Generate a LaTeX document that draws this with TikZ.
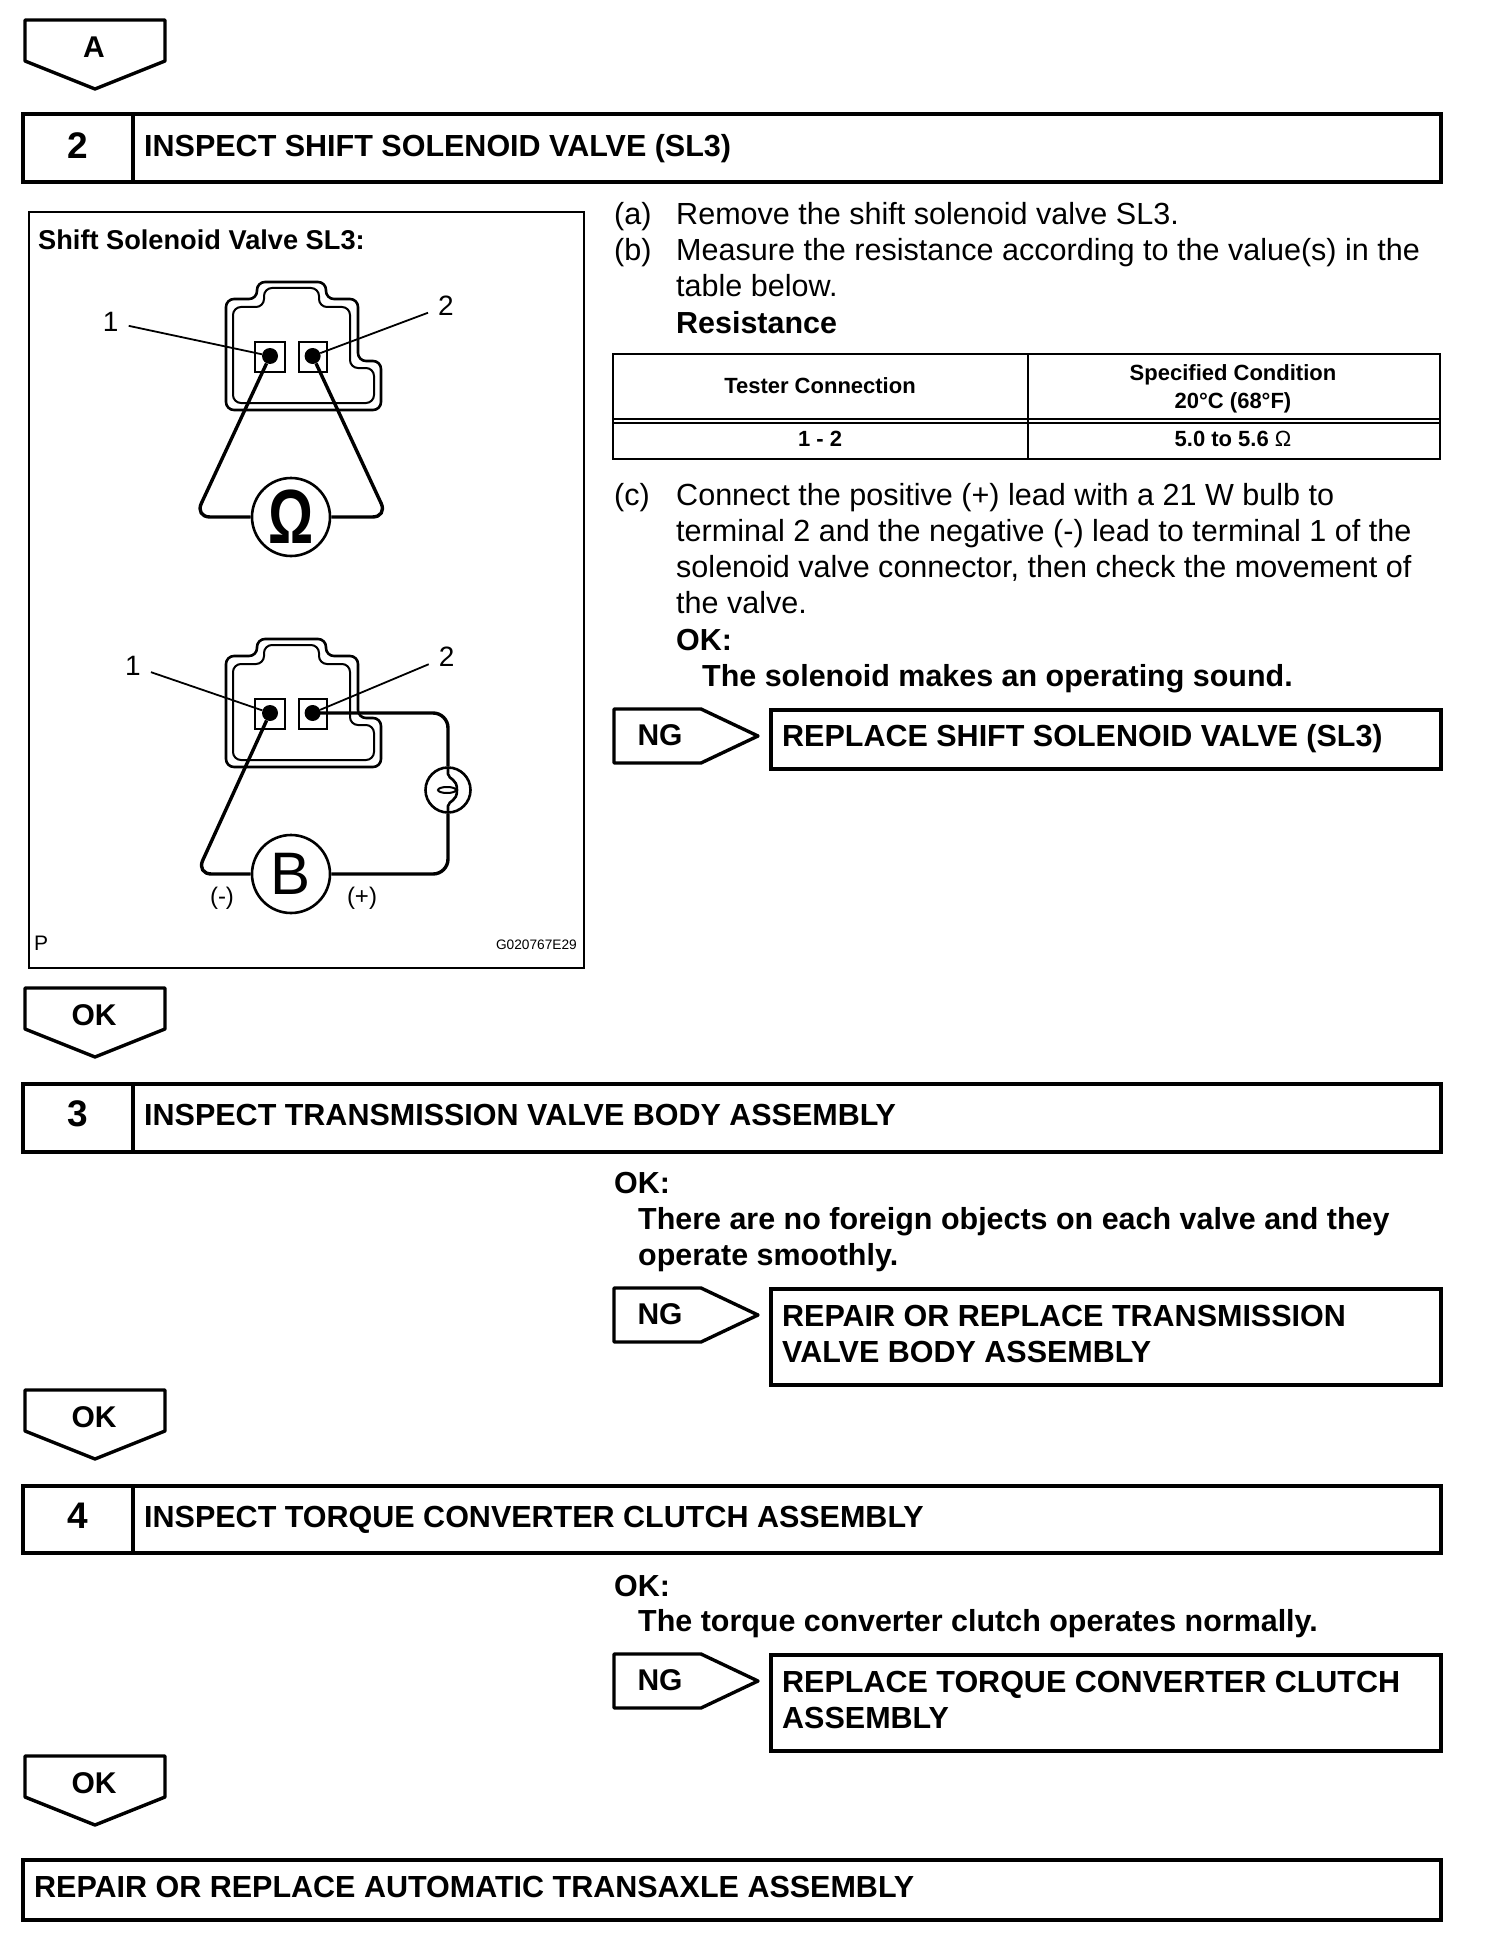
\documentclass[tikz,border=0pt]{standalone}
\usepackage{fontspec}
\usepackage{graphicx}
\setmainfont{Liberation Sans}
\tikzset{
    boxline/.style={line width=3.8pt, line join=miter},
    tagline/.style={line width=3.4pt, line join=round},
    shell/.style={line width=2.6pt, rounded corners=8pt},
    lead/.style={line width=3.4pt, rounded corners=15pt},
    leader/.style={line width=1.8pt},
    bodytext/.style={anchor=north west, inner sep=0pt, align=left, font=\fontsize{30.55}{36}\selectfont, execute at begin node=\strut},
    boldtext/.style={bodytext, font=\fontsize{30.45}{36}\selectfont\bfseries},
    headtext/.style={anchor=west, inner sep=0pt, text height=22pt, text depth=6pt, font=\fontsize{30.5}{36}\selectfont\bfseries},
    celltext/.style={inner sep=0pt, font=\fontsize{22}{28}\selectfont\bfseries, align=center},
    numtext/.style={inner sep=10pt, font=\fontsize{28}{30}\selectfont},
    meter/.style={circle, draw, line width=2.6pt, fill=white, minimum size=78pt, inner sep=0pt},
}
\begin{document}
\begin{tikzpicture}[x=1pt, y=-1pt]
    \useasboundingbox (0,0) rectangle (1504,1942);

    % Flags pointing down
    \foreach \yt/\lab/\idx in {20/A/flaga, 988/OK/flagb, 1390/OK/flagc, 1756/OK/flagd} {
        \draw[tagline] (25,\yt) -- (165,\yt) -- (165,\yt+41) -- (95,\yt+69) -- (25,\yt+41) -- cycle;
        \node[font=\fontsize{30}{36}\selectfont\bfseries, inner sep=0pt] (\idx) at (94,\yt+27) {\lab};
    }

    % Step headings
    \foreach \yt/\yb/\ytxt/\num/\txt in {114/182/149/2/INSPECT SHIFT SOLENOID VALVE (SL3), 1084/1152/1117/3/INSPECT TRANSMISSION VALVE BODY ASSEMBLY, 1486/1553/1519/4/INSPECT TORQUE CONVERTER CLUTCH ASSEMBLY} {
        \draw[boxline] (23,\yt) rectangle (1441,\yb);
        \draw[boxline] (133,\yt) -- (133,\yb);
        \node[font=\fontsize{37}{40}\selectfont\bfseries, inner sep=0pt] (step\num) at (78,\ytxt-3) {\num};
        \node[headtext] (title\num) at (144,\ytxt) {\txt};
    }

    % Last box
    \draw[boxline] (23,1860) rectangle (1441,1920);
    \node[headtext] (finalbox) at (34,1889) {REPAIR OR REPLACE AUTOMATIC TRANSAXLE ASSEMBLY};

    % Flags pointing right and their boxes
    \foreach \yt/\yb/\idx in {710/769/nga, 1289/1385/ngb, 1655/1751/ngc} {
        \draw[tagline] (614,\yt-1) -- (701,\yt-1) -- (758,\yt+26) -- (701,\yt+53) -- (614,\yt+53) -- cycle;
        \node[font=\fontsize{30}{36}\selectfont\bfseries, inner sep=0pt] (\idx) at (660,\yt+25) {NG};
        \draw[boxline] (771,\yt) rectangle (1441,\yb);
    }
    \node[headtext] (repa) at (782,738) {REPLACE SHIFT SOLENOID VALVE (SL3)};
    \node[headtext] (repb) at (782,1318) {REPAIR OR REPLACE TRANSMISSION};
    \node[headtext] (repb2) at (782,1354) {VALVE BODY ASSEMBLY};
    \node[headtext] (repc) at (782,1684) {REPLACE TORQUE CONVERTER CLUTCH};
    \node[headtext] (repc2) at (782,1720) {ASSEMBLY};

    % Text column
    \node[bodytext] (parta) at (614,202.5) {(a)\\(b)};
    \node[bodytext] (texta) at (676,202.5) {Remove the shift solenoid valve SL3.\\Measure the resistance according to the value(s) in the\\table below.};
    \node[boldtext] (resist) at (676,308) {Resistance};
    \node[bodytext] (partc) at (614,480) {(c)};
    \node[bodytext] (textc) at (676,483.5) {Connect the positive (+) lead with a 21 W bulb to\\terminal 2 and the negative (-) lead to terminal 1 of the\\solenoid valve connector, then check the movement of\\the valve.};
    \node[boldtext] (okc) at (676,625) {OK:};
    \node[boldtext] (okctxt) at (702,661) {The solenoid makes an operating sound.};
    \node[boldtext] (okd) at (614,1168) {OK:};
    \node[boldtext] (okdtxt) at (638,1207.5) {There are no foreign objects on each valve and they\\operate smoothly.};
    \node[boldtext] (oke) at (614,1571) {OK:};
    \node[boldtext] (oketxt) at (638,1606.5) {The torque converter clutch operates normally.};

    % Table
    \draw[line width=2pt] (613,354) rectangle (1440,459);
    \draw[line width=1.8pt] (1028,354) -- (1028,459);
    \draw[line width=1.8pt] (613,419) -- (1440,419);
    \draw[line width=1.8pt] (613,423) -- (1440,423);
    \node[celltext] (cella) at (820,386) {Tester Connection};
    \node[celltext] (cellb) at (1233,388.5) {Specified Condition\\20°C (68°F)};
    \node[celltext] (cellc) at (820,439) {1 - 2};
    \node[celltext] (celld) at (1233,439) {5.0 to 5.6 {\normalfont Ω}};

    % Panel
    \draw[line width=2.6pt] (29,212) rectangle (584,968);
    \node[anchor=west, inner sep=0pt, font=\fontsize{27.2}{30}\selectfont\bfseries] (paneltitle) at (38,240) {Shift Solenoid Valve SL3:};
    \node[anchor=west, inner sep=0pt, font=\fontsize{21}{24}\selectfont] (panelp) at (34,943) {P};
    \node[anchor=east, inner sep=0pt, font=\fontsize{13.7}{16}\selectfont] (panelcode) at (577,945) {G020767E29};

    % Connector shells and terminals
    \foreach \dy/\idx in {0/a, 357/b} {
        \begin{scope}[shift={(0,\dy)}]
            \draw[shell] (257,282) -- (326,282) -- (326,299) -- (358,299) -- (358,361) -- (381,361) -- (381,410) -- (226,410) -- (226,299) -- (257,299) -- cycle;
            \draw[shell, line width=2pt] (264,288) -- (319,288) -- (319,307) -- (350,307) -- (350,368) -- (374,368) -- (374,403) -- (233,403) -- (233,307) -- (264,307) -- cycle;
            \draw[line width=2.6pt] (255,342) rectangle (285,372);
            \draw[line width=2.6pt] (299,342) rectangle (327,372);
            \node[circle, fill, inner sep=0pt, minimum size=16pt] (dot\idx1) at (270,356) {};
            \node[circle, fill, inner sep=0pt, minimum size=16pt] (dot\idx2) at (312.6,356) {};
        \end{scope}
    }

    % Ohmmeter
    \node[meter, font=\fontsize{64}{70}\selectfont\bfseries] (ohm) at (291,517) {\scalebox{.88}[1.2]{Ω}};
    \draw[lead] (dota1) -- (195,517) -- (ohm);
    \draw[lead] (dota2) -- (387.5,517) -- (ohm);
    \node[numtext] (numa1) at (110.7,322) {1};
    \node[numtext] (numa2) at (446,306) {2};
    \draw[leader] (numa1) -- (dota1);
    \draw[leader] (numa2) -- (dota2);

    % Battery and bulb
    \node[meter, font=\fontsize{60}{64}\selectfont] (batt) at (291,874) {B};
    \node[circle, draw, line width=2.6pt, minimum size=45pt, inner sep=0pt] (bulb) at (448,790) {};
    \draw[lead] (dotb1) -- (196.5,874) -- (batt);
    \draw[lead] (batt) -- (448,874) -- (bulb);
    \draw[lead] (dotb2.center) -- (448,713) -- (bulb);
    \draw[line width=2.6pt] (448,767) -- (448,774) .. controls (449,780) and (457,778) .. (457,790) .. controls (457,802) and (449,800) .. (448,806) -- (448,813);
    \draw[line width=2pt] (447,790) ellipse (9 and 3);
    \node[numtext] (numb1) at (133,666) {1};
    \node[numtext] (numb2) at (446.7,656.7) {2};
    \draw[leader] (numb1) -- (dotb1);
    \draw[leader] (numb2) -- (dotb2);
    \node[inner sep=0pt, font=\fontsize{24}{28}\selectfont] (minus) at (222,898) {(-)};
    \node[inner sep=0pt, font=\fontsize{24}{28}\selectfont] (plus) at (362,898) {(+)};
\end{tikzpicture}
\end{document}
